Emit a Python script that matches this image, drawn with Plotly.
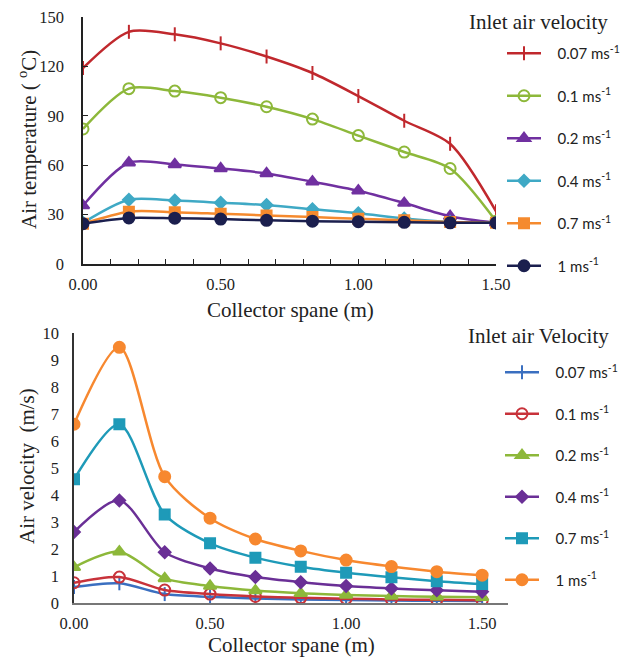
import plotly.graph_objects as go

W, H = 631, 659

x_pos = [0, 1/6, 2/6, 3/6, 4/6, 5/6, 1.0, 7/6, 8/6, 1.5]
pad = "\u00a0\u00a0\u00a0"
series_names = [pad + "0.07 ms<sup>-1</sup>", pad + "0.1 ms<sup>-1</sup>", pad + "0.2 ms<sup>-1</sup>",
                pad + "0.4 ms<sup>-1</sup>", pad + "0.7 ms<sup>-1</sup>", pad + "1 ms<sup>-1</sup>"]

# Top chart: air temperature (°C)
temp_007 = [119, 141, 139.5, 134, 126, 116, 102, 87, 73, 32]
temp_01 = [82, 106.5, 105, 101, 95.5, 88, 78, 68, 58, 26]
temp_02 = [35.5, 61.5, 60.5, 58, 55, 50, 44.5, 37, 29, 25]
temp_04 = [25, 39, 38.5, 37.2, 35.8, 33.2, 30.8, 27.7, 25.5, 25]
temp_07 = [24.5, 31.8, 31.5, 30.5, 29.5, 28.5, 27.5, 26.5, 25.5, 25]
temp_1 = [24.5, 28, 27.8, 27.3, 26.5, 26, 25.7, 25.3, 25, 25]

# Bottom chart: air velocity (m/s)
vel_007 = [0.59, 0.73, 0.33, 0.23, 0.17, 0.13, 0.11, 0.09, 0.08, 0.07]
vel_01 = [0.75, 0.96, 0.48, 0.33, 0.24, 0.19, 0.16, 0.13, 0.12, 0.10]
vel_02 = [1.32, 1.90, 0.91, 0.63, 0.46, 0.36, 0.30, 0.26, 0.23, 0.21]
vel_04 = [2.63, 3.80, 1.88, 1.28, 0.96, 0.77, 0.63, 0.54, 0.47, 0.42]
vel_07 = [4.58, 6.62, 3.28, 2.21, 1.68, 1.34, 1.12, 0.95, 0.81, 0.70]
vel_1 = [6.62, 9.47, 4.68, 3.14, 2.37, 1.93, 1.59, 1.35, 1.16, 1.03]

top_colors = ["#C0282D", "#8DB83A", "#7030A0", "#3FA9C5", "#F58A2E", "#1B1F4E"]
top_symbols = ["line-ns-open", "circle-open", "triangle-up", "diamond", "square", "circle"]
top_sizes = [10, 11, 11, 9, 10, 11]

bot_colors = ["#3A6FC0", "#C8323A", "#8DB83A", "#6A2F96", "#1E9AB8", "#F7882F"]
bot_symbols = ["line-ns-open", "circle-open", "triangle-up", "diamond", "square", "circle"]
bot_sizes = [10, 11, 11, 9, 10, 11]

serif = "Liberation Serif"
sans = "Lato"

fig = go.Figure()

for i, ys in enumerate([temp_007, temp_01, temp_02, temp_04, temp_07, temp_1]):
    fig.add_trace(go.Scatter(
        x=x_pos, y=ys, name=series_names[i], mode="lines+markers",
        line=dict(color=top_colors[i], width=2.5, shape="spline", smoothing=0.8),
        marker=dict(symbol=top_symbols[i], size=top_sizes[i], color=top_colors[i],
                    line=dict(color=top_colors[i], width=2)),
        xaxis="x", yaxis="y", legend="legend", legendgroup="t%d" % i,
    ))

for i, ys in enumerate([vel_007, vel_01, vel_02, vel_04, vel_07, vel_1]):
    fig.add_trace(go.Scatter(
        x=x_pos, y=ys, name=series_names[i], mode="lines+markers",
        line=dict(color=bot_colors[i], width=2.5, shape="spline", smoothing=0.8),
        marker=dict(symbol=bot_symbols[i], size=bot_sizes[i], color=bot_colors[i],
                    line=dict(color=bot_colors[i], width=2)),
        xaxis="x2", yaxis="y2", legend="legend2", legendgroup="b%d" % i,
    ))

def px_x(p):
    return p / W

def px_y(p):
    return 1 - p / H

tickfont = dict(family=serif, size=16.5, color="#222")

def ann(text, x, y, angle=0):
    return dict(text=text, x=px_x(x), y=px_y(y), xref="paper", yref="paper",
                xanchor="center", yanchor="middle", showarrow=False, textangle=angle,
                font=dict(family=serif, size=21, color="#222"))

fig.update_layout(
    width=W, height=H, margin=dict(l=0, r=0, t=0, b=0, autoexpand=False),
    paper_bgcolor="white", plot_bgcolor="white",
    showlegend=True,
    xaxis=dict(domain=[px_x(83), px_x(496)], anchor="y", range=[0, 1.5],
               tickvals=[0, 0.5, 1.0, 1.5], tickformat=".2f",
               ticks="inside", ticklen=5, tickcolor="#222",
               minor=dict(dtick=0.1, tick0=0, ticks="inside", ticklen=5, tickcolor="#222"),
               showline=True, linecolor="#222", linewidth=1.5, showgrid=False, zeroline=False,
               tickfont=tickfont, ticklabelstandoff=4, automargin=False),
    yaxis=dict(domain=[px_y(264), px_y(17)], anchor="x", range=[0, 150],
               tickvals=[0, 30, 60, 90, 120, 150], ticks="inside", ticklen=5, tickcolor="#222",
               showline=True, linecolor="#222", linewidth=1.5, showgrid=False, zeroline=False,
               tickfont=tickfont, ticklabelstandoff=14, automargin=False),
    xaxis2=dict(domain=[px_x(74), px_x(508)], anchor="y2", range=[0, 1.595],
                tickvals=[0, 0.5, 1.0, 1.5], tickformat=".2f", ticks="",
                showline=True, linecolor="#777", linewidth=1.5, showgrid=False, zeroline=False,
                tickfont=tickfont, ticklabelstandoff=4, automargin=False),
    yaxis2=dict(domain=[px_y(603), px_y(333)], anchor="x2", range=[0, 10],
                tickvals=list(range(0, 11)), ticks="",
                showline=True, linecolor="#333", linewidth=1.5, showgrid=False, zeroline=False,
                tickfont=tickfont, ticklabelstandoff=10, automargin=False),
    legend=dict(x=px_x(502), xanchor="left", y=px_y(37), yanchor="top",
                font=dict(family=sans, size=15, color="#222"),
                tracegroupgap=20, itemwidth=34, bgcolor="rgba(0,0,0,0)"),
    legend2=dict(x=px_x(500), xanchor="left", y=px_y(356), yanchor="top",
                 font=dict(family=sans, size=15, color="#222"),
                 tracegroupgap=19, itemwidth=34, bgcolor="rgba(0,0,0,0)"),
    annotations=[
        ann("Inlet air velocity", 538, 22),
        ann("Inlet air Velocity", 538, 336),
        ann("Collector spane (m)", 290, 310),
        ann("Collector spane (m)", 291, 645),
        ann("Air temperature ( <sup>o</sup>C)", 27, 140, -90),
        ann("Air velocity  (m/s)", 27, 466, -90),
    ],
)

fig.write_html("out.html")
